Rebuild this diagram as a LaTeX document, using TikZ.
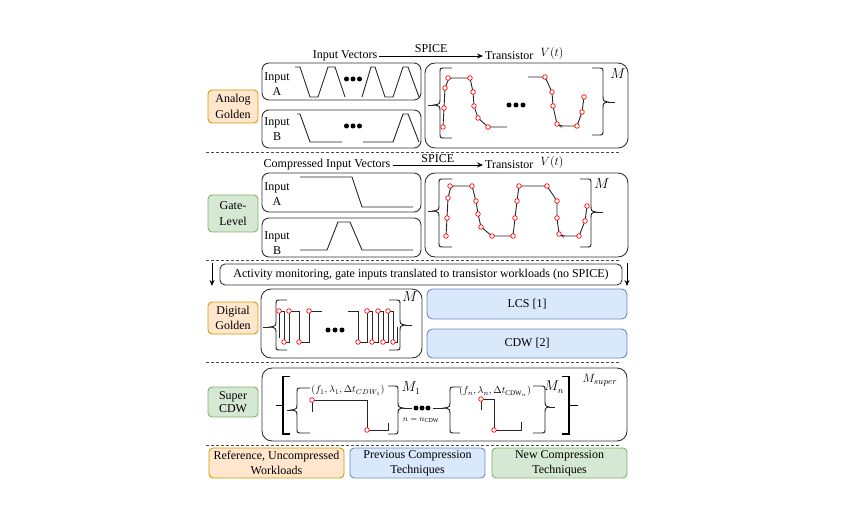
\documentclass[tikz,border=0pt]{standalone}
\usepackage{fontspec}
\setmainfont{Liberation Serif}
\usetikzlibrary{arrows.meta}
\definecolor{orF}{HTML}{FFE6CC}
\definecolor{orD}{HTML}{D79B00}
\definecolor{grF}{HTML}{D5E8D4}
\definecolor{grD}{HTML}{82B366}
\definecolor{blF}{HTML}{DAE8FC}
\definecolor{blD}{HTML}{6C8EBF}
% left brace: #1 tick x, #2 tip x, #3 vertical x, #4 end x, #5 top y, #6 mid y, #7 bottom y
\newcommand{\BrL}[7]{%
  \draw[wave] (#4,#5) -- (#3+5,#5) .. controls (#3,#5) .. (#3,#5+5) -- (#3,#6-7) .. controls (#3,#6-1) .. (#2,#6) .. controls (#3,#6+1) .. (#3,#6+7) -- (#3,#7-5) .. controls (#3,#7) .. (#3+5,#7) -- (#4,#7);
  \draw[wave] (#1,#6) -- (#2,#6);}
\newcommand{\BrR}[7]{%
  \draw[wave] (#4,#5) -- (#3-5,#5) .. controls (#3,#5) .. (#3,#5+5) -- (#3,#6-7) .. controls (#3,#6-1) .. (#2,#6) .. controls (#3,#6+1) .. (#3,#6+7) -- (#3,#7-5) .. controls (#3,#7) .. (#3-5,#7) -- (#4,#7);
  \draw[wave] (#2,#6) -- (#1,#6);}
\begin{document}
\begin{tikzpicture}[x=1pt,y=-1pt,
  every node/.style={font=\fontsize{12}{15}\selectfont},
  frame/.style={draw=black!80, line width=0.9pt, rounded corners=7pt, inner sep=0pt},
  bigframe/.style={frame, rounded corners=10pt},
  tag/.style={rounded corners=4pt, line width=0.9pt, align=center, inner sep=0pt},
  orangetag/.style={tag, fill=orF, draw=orD},
  greentag/.style={tag, fill=grF, draw=grD},
  bluetag/.style={tag, fill=blF, draw=blD},
  wave/.style={line width=0.9pt, draw=black!85},
  samp/.style={draw=red, fill=white, line width=0.7pt},
  sep/.style={draw=black!70, line width=0.9pt, dash pattern=on 3pt off 2pt},
  hdr/.style={inner sep=2pt},
  lab/.style={inner sep=0pt, align=center},
  mlab/.style={lab, font=\fontsize{13.5}{15}\selectfont},
  arr/.style={line width=0.8pt, -{Stealth[length=6pt,width=5pt]}}
]
\useasboundingbox (0,0) rectangle (850,510);
\fill[white] (0,0) rectangle (850,510);

% ---------- separators ----------
\draw[sep] (206,152) -- (621,152);
\draw[sep] (206,260) -- (621,260);
\draw[sep] (206,362) -- (621,362);
\draw[sep] (206,445) -- (621,445);

% ---------- category tags ----------
\node[orangetag, minimum width=50pt, minimum height=33pt, font=\fontsize{12}{16}\selectfont] (ag) at (233,106.5) {Analog\\Golden};
\node[greentag, minimum width=50pt, minimum height=37pt, font=\fontsize{12}{16}\selectfont] (gl) at (233,213.5) {Gate-\\Level};
\node[orangetag, minimum width=50pt, minimum height=32pt] (dg) at (233,318) {Digital\\Golden};
\node[greentag, minimum width=50pt, minimum height=30pt, font=\fontsize{12}{13.5}\selectfont] (sc) at (233,402) {Super\\CDW};

% ---------- legend ----------
\node[orangetag, minimum width=135pt, minimum height=30pt] (l1) at (276.5,463) {Reference, Uncompressed\\Workloads};
\node[bluetag, minimum width=135pt, minimum height=30pt] (l2) at (417.5,463) {Previous Compression\\Techniques};
\node[greentag, minimum width=135pt, minimum height=30pt] (l3) at (559.5,463) {New Compression\\Techniques};

% ---------- analog golden ----------
\node[hdr] (hiv) at (345,56) {Input Vectors};
\node[hdr, anchor=west] (htr) at (483,56) {Transistor};
\node[hdr, font=\fontsize{13}{15}\selectfont] (hvt) at (552,54) {$V(t)$};
\draw[arr] (hiv) -- node[above, inner sep=3pt] (sp1) {SPICE} (htr);

\node[frame, minimum width=159pt, minimum height=37pt] (aA) at (341.5,81.5) {};
\node[frame, minimum width=159pt, minimum height=38pt] (aB) at (341.5,129) {};
\node[bigframe, minimum width=203pt, minimum height=85pt] (aT) at (526.5,105.5) {};
\node[lab] (aAt) at (277,84.5) {Input\\A};
\node[lab] (aBt) at (277,129) {Input\\B};

\draw[wave] (295,67) -- (300,67) -- (310,97) -- (318,97) -- (328,67) -- (335,67) -- (345,97);
\draw[wave] (362,97) -- (371,67) -- (375,67) -- (385,97) -- (393,97) -- (403,67) -- (408,67) -- (419,97);
\foreach \x in {346.5,353,359.5} \fill (\x,79) circle[radius=2.5];
\draw[wave] (297,114) -- (300,114) -- (310,142) -- (342,142);
\draw[wave] (363,142) -- (393,142) -- (403,114) -- (408,114) -- (419,142);
\foreach \x in {346.5,353,359.5} \fill (\x,126) circle[radius=2.5];

\BrL{428}{434}{440}{452}{68}{105}{138}
\BrR{615}{608}{603}{592}{68}{102}{135}
\node[mlab] (aM) at (618,74) {$M$};
\draw[wave, rounded corners=3pt] (443,127) -- (444,108) -- (445,88) -- (449,78) -- (470,78) -- (473,92) -- (474,106) -- (478,118) -- (488,127) -- (507,127);
\draw[wave, rounded corners=3pt] (528,77) -- (545,77) -- (552,92) -- (553,106) -- (557,124) -- (560,126) -- (577,126) -- (582,112) -- (584,97);
\foreach \x in {509,516,523} \fill (\x,105) circle[radius=2.5];
\foreach \p in {(448,78),(470,78),(445,88),(444,108),(443,127),(473,92),(474,106),(478,118),(488,127),
  (545,77),(552,92),(553,106),(557,124),(577,126),(582,112),(584,97)}
  \draw[samp] \p circle[radius=2.3];

% ---------- gate level ----------
\node[hdr] (hciv) at (327,165) {Compressed Input Vectors};
\node[hdr, anchor=west] (htr2) at (483,165) {Transistor};
\node[hdr, font=\fontsize{13}{15}\selectfont] (hvt2) at (552,163) {$V(t)$};
\draw[arr] (hciv) -- node[above, inner sep=2pt] (sp2) {SPICE} (htr2);

\node[frame, minimum width=159pt, minimum height=39pt] (gA) at (341.5,192.5) {};
\node[frame, minimum width=159pt, minimum height=39pt] (gB) at (341.5,237.5) {};
\node[bigframe, minimum width=203pt, minimum height=84pt] (gT) at (526.5,215) {};
\node[lab] (gAt) at (277,194.5) {Input\\A};
\node[lab] (gBt) at (277,243) {Input\\B};

\draw[wave] (300,177) -- (352,177) -- (362,207) -- (413,207);
\draw[wave] (300,250) -- (327,250) -- (338,222) -- (350,222) -- (362,250) -- (413,250);

\BrL{428}{433}{439}{452}{179}{211}{247}
\BrR{603}{596}{591}{580}{179}{212}{247}
\node[mlab] (gM) at (602,184) {$M$};
\draw[wave, rounded corners=3pt] (446,236) -- (447,218) -- (448,198) -- (451,186) -- (472,186) -- (476,201) -- (478,214) -- (481,227) -- (492,236) -- (513,236) -- (515,218) -- (517,201) -- (519,186) -- (547,186) -- (557,201) -- (557,218) -- (559,234) -- (562,236) -- (579,236) -- (585,221) -- (587,206);
\foreach \p in {(450,186),(472,186),(448,198),(476,201),(447,218),(478,214),(446,236),(481,227),(492,236),(513,236),
  (515,218),(517,201),(519,186),(547,186),(557,201),(557,218),(559,234),(579,236),(585,221),(587,206)}
  \draw[samp] \p circle[radius=2.3];

% ---------- activity monitoring ----------
\node[frame, rounded corners=5pt, minimum width=402pt, minimum height=21pt] (act) at (421,274.5) {Activity monitoring, gate inputs translated to transistor workloads (no SPICE)};
\coordinate (la1) at (212,263);
\coordinate (la2) at (212,286);
\coordinate (ra1) at (627,263);
\coordinate (ra2) at (627,286);
\draw[arr] (la1) -- (la2);
\draw[arr] (ra1) -- (ra2);

% ---------- digital golden ----------
\node[bigframe, minimum width=161pt, minimum height=69pt] (dbox) at (341.5,323.5) {};
\node[bluetag, rounded corners=6pt, minimum width=200pt, minimum height=30pt] (lcs) at (527,304) {LCS [1]};
\node[bluetag, rounded corners=6pt, minimum width=200pt, minimum height=29pt] (cdw) at (527,343.5) {CDW [2]};

\BrL{263}{270}{276}{287}{300}{327}{350}
\BrR{412}{405}{400}{389}{300}{325}{350}
\node[mlab] (dM) at (410,297) {$M$};
\draw[wave] (279,338) -- (279,311) -- (284,311) -- (284,342) -- (289,342) -- (289,311) -- (299,311) -- (299,342) -- (309,342) -- (309,311) -- (322,311);
\draw[wave] (348,311) -- (358,311) -- (358,342) -- (367,342) -- (367,311) -- (372,311) -- (372,342) -- (378,342) -- (378,311) -- (383,311) -- (383,342) -- (388,342) -- (388,311) -- (393,311) -- (393,342) -- (397,342) -- (397,327);
\foreach \x in {328,335,342} \fill (\x,330) circle[radius=2.5];
\foreach \p in {(279,311),(289,311),(309,311),(284,342),(299,342),
  (367,311),(378,311),(388,311),(358,342),(372,342),(383,342),(393,342)}
  \draw[samp] \p circle[radius=2.3];

% ---------- super CDW ----------
\node[bigframe, minimum width=365pt, minimum height=73pt] (sbox) at (444.5,404.5) {};
\draw[line width=1.8pt] (290,376.5) -- (283,376.5) -- (283,434) -- (290,434);
\draw[line width=1pt] (276,405) -- (283,405);
\draw[line width=1.8pt] (562,376.5) -- (569,376.5) -- (569,434) -- (562,434);
\draw[line width=1pt] (569,405) -- (578,405);

\BrL{287}{291}{297}{310}{388}{410}{433}
\BrR{412}{403}{398}{388}{386}{408}{434}
\BrL{433}{444}{450}{460}{387}{408}{433}
\BrR{555}{549}{545}{533}{386}{407}{433}
\foreach \x in {416,422,428} \fill (\x,408) circle[radius=2.5];

\node[lab, font=\fontsize{10}{12}\selectfont] (p1) at (348,390) {$(f_1,\lambda_1,\Delta t_{CDW_1})$};
\node[lab, font=\fontsize{10}{12}\selectfont] (pn) at (495,391) {$(f_n,\lambda_n,\Delta t_{\mathrm{CDW}_n})$};
\node[mlab] (m1) at (411,388) {$M_1$};
\node[mlab] (mn) at (554,387) {$M_n$};
\node[lab, font=\fontsize{12.5}{14}\selectfont] (ms) at (600,380) {$M_{super}$};
\node[lab, font=\fontsize{8.5}{10}\selectfont] (nn) at (421,420) {$n=n_{\mathrm{CDW}}$};

\draw[wave] (312,412) -- (312,400) -- (367,400) -- (367,430) -- (388,430) -- (388,423);
\draw[wave] (481,410) -- (481,399) -- (494,399) -- (494,430) -- (521,430) -- (521,422);
\foreach \p in {(312,400),(367,430),(481,399),(494,430)}
  \draw[samp] \p circle[radius=2.3];
\end{tikzpicture}
\end{document}
